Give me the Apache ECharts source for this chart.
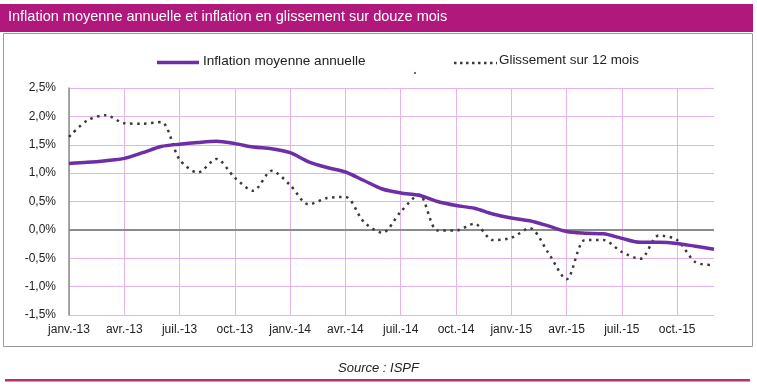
<!DOCTYPE html>
<html><head><meta charset="utf-8">
<script src="https://cdn.jsdelivr.net/npm/echarts@6/dist/echarts.min.js"></script>
<style>html,body{margin:0;padding:0;background:#fff;}#c{width:757px;height:388px;}</style>
</head><body><div id="c"></div>
<script>
const months = ['janv.','févr.','mars','avr.','mai','juin','juil.','août','sept.','oct.','nov.','déc.'];
const years = ['13','14','15'];
const categories = [];
years.forEach(y => months.forEach(m => categories.push(m + '-' + y)));

const moyenneAnnuelle = [1.17,1.19,1.22,1.26,1.36,1.47,1.51,1.54,1.56,1.52,1.46,1.43,
  1.36,1.20,1.10,1.02,0.87,0.72,0.65,0.61,0.50,0.43,0.38,0.28,
  0.21,0.16,0.07,-0.03,-0.06,-0.07,-0.15,-0.22,-0.22,-0.24,-0.29,-0.34];
const glissement = [1.64,1.93,2.02,1.88,1.87,1.90,1.24,1.01,1.25,0.92,0.69,1.04,
  0.79,0.45,0.56,0.58,0.14,-0.05,0.32,0.62,-0.01,-0.01,0.11,-0.18,
  -0.14,0.03,-0.40,-0.87,-0.18,-0.18,-0.39,-0.51,-0.10,-0.18,-0.57,-0.62];

const seriesNames = ['Inflation moyenne annuelle','Glissement sur 12 mois'];
const titleText = 'Inflation moyenne annuelle et inflation en glissement sur douze mois';
const sourceText = 'Source : ISPF';

const FONT = '"Liberation Sans", Arial, sans-serif';
const C1 = '#6E2FA6', C2 = '#3a3a3a';
const chart = echarts.init(document.getElementById('c'));
chart.setOption({
  animation: false,
  textStyle: {fontFamily: FONT},
  graphic: [
    {type:'rect', shape:{x:0,y:4,width:753,height:28}, style:{fill:'#B1187C'}, silent:true},
    {type:'text', left:8, top:9, style:{text:titleText, fill:'#fff', font:'14.5px ' + FONT}},
    {type:'rect', shape:{x:3.5,y:33.5,width:749,height:313}, style:{fill:'none', stroke:'#9a9a9a', lineWidth:1}, silent:true},
    {type:'text', left:'center', top:362, style:{text:sourceText, fill:'#222', font:'italic 13px ' + FONT}},
    {type:'rect', shape:{x:5,y:379,width:745,height:2.5}, style:{fill:'#B3316F'}, silent:true},
    {type:'circle', shape:{cx:415,cy:73,r:1}, style:{fill:'#333399'}, silent:true},
    {type:'line', shape:{x1:157,y1:62.5,x2:199,y2:62.5}, style:{stroke:C1, lineWidth:3.5}, silent:true},
    {type:'text', left:203, top:54, style:{text:seriesNames[0], fill:'#222', font:'13.6px ' + FONT}},
    {type:'line', shape:{x1:454,y1:63,x2:497,y2:63}, style:{stroke:C2, lineWidth:2.5, lineDash:[2.5,3.5]}, silent:true},
    {type:'text', left:499, top:54, style:{text:seriesNames[1], fill:'#222', font:'13.4px ' + FONT}}
  ],
  grid: {left: 69, right: 43, top: 88, bottom: 73},
  xAxis: {
    type: 'category', data: categories, boundaryGap: false,
    axisLine: {show: false},
    axisTick: {show: false},
    axisLabel: {interval: 2, color: '#222', fontSize: 12, margin: 9, fontFamily: FONT},
    splitLine: {show: true, interval: 2, lineStyle: {color: '#E6B3E6', width: 1}}
  },
  yAxis: {
    type: 'value', min: -1.5, max: 2.5, interval: 0.5,
    axisLine: {show: true, lineStyle: {color: '#8c8c8c', width: 1.5}},
    axisTick: {show: false},
    axisLabel: {color: '#222', fontSize: 12, margin: 13, fontFamily: FONT,
      formatter: v => v.toFixed(1).replace('.', ',') + '%'},
    splitLine: {show: true, lineStyle: {color: '#E6B3E6', width: 1}}
  },
  series: [
    {name: seriesNames[0], type: 'line', data: moyenneAnnuelle, symbol: 'none', smooth: 0.3,
     lineStyle: {color: C1, width: 3.5}, itemStyle: {color: C1}, z: 3,
     markLine: {silent: true, symbol: 'none', label: {show: false},
       lineStyle: {color: '#8c8c8c', width: 2, type: 'solid'}, data: [{yAxis: 0}], z: 1}},
    {name: seriesNames[1], type: 'line', data: glissement, symbol: 'none', smooth: 0.3,
     lineStyle: {color: C2, width: 2.5, type: [2.5, 4.5]}, itemStyle: {color: C2}, z: 2}
  ]
});
</script></body></html>
